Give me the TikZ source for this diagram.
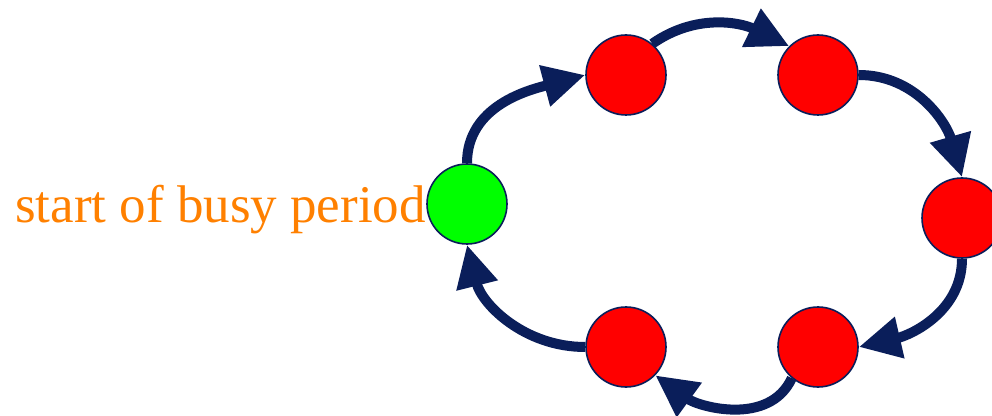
\documentclass[tikz,border=0pt]{standalone}
\usepackage{fontspec}
\setmainfont{Liberation Serif}
\usetikzlibrary{arrows.meta}
\definecolor{navy}{RGB}{10,30,90}
\definecolor{txtorange}{RGB}{255,128,0}
\tikzset{
  state/.style={circle, draw=navy, line width=1.6pt, minimum size=80pt, inner sep=0pt},
  busy/.style={state, fill=red},
  startst/.style={state, fill=green},
  flow/.style={draw=navy, line width=10pt, -{Triangle[length=42pt,width=40pt]}, navy}
}
\begin{document}
\begin{tikzpicture}[x=1pt,y=1pt]
\useasboundingbox (0,0) rectangle (992,415);
\node[startst] (g) at (467,211) {};
\node[busy] (r1) at (626,340) {};
\node[busy] (r2) at (818,340) {};
\node[busy] (r3) at (962,197) {};
\node[busy] (r4) at (818,68) {};
\node[busy] (r5) at (626,68) {};
\node[anchor=base west, inner sep=0pt, text=txtorange, font=\fontsize{53}{60}\selectfont] (lbl) at (15,192) {start of busy period};
\draw[flow] (g.north) to[out=90,in=195] (r1.west);
\draw[flow] (r1.50) to[out=35,in=154] (r2.135);
\draw[flow] (r2.east) to[out=0,in=106] (r3.north);
\draw[flow] (r3.south) to[out=-90,in=13] (r4.east);
\draw[flow] (r4.230) to[out=-115,in=-36] (r5.-44);
\draw[flow] (r5.west) to[out=180,in=-76] (g.south);
\end{tikzpicture}
\end{document}
